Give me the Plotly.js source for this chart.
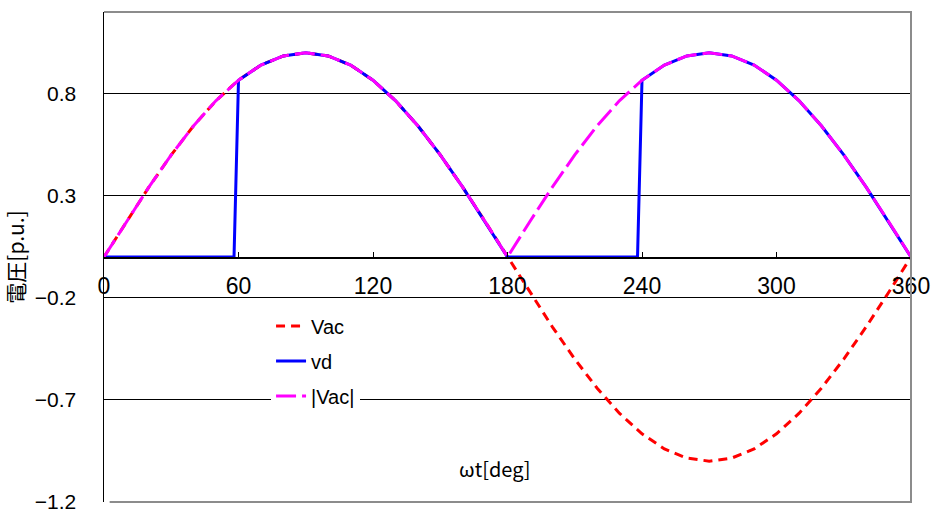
<!DOCTYPE html>
<html>
<head>
<meta charset="utf-8">
<script src="https://cdn.plot.ly/plotly-3.0.1.min.js"></script>
<style>html,body{margin:0;padding:0;background:#fff;}#chart{width:935px;height:518px;}</style>
</head>
<body>
<div id="chart"></div>
<script>
// angle samples [deg]
var deg = [0,10,20,30,40,50,60,70,80,90,100,110,120,130,140,150,160,170,180,
           190,200,210,220,230,240,250,260,270,280,290,300,310,320,330,340,350,360];
// Vac [p.u.]
var vac = [0,0.174,0.342,0.5,0.643,0.766,0.866,0.94,0.985,1.0,0.985,0.94,0.866,0.766,0.643,0.5,0.342,0.174,0,
           -0.174,-0.342,-0.5,-0.643,-0.766,-0.866,-0.94,-0.985,-1.0,-0.985,-0.94,-0.866,-0.766,-0.643,-0.5,-0.342,-0.174,0];
// |Vac| [p.u.]
var absVac = [0,0.174,0.342,0.5,0.643,0.766,0.866,0.94,0.985,1.0,0.985,0.94,0.866,0.766,0.643,0.5,0.342,0.174,0,
              0.174,0.342,0.5,0.643,0.766,0.866,0.94,0.985,1.0,0.985,0.94,0.866,0.766,0.643,0.5,0.342,0.174,0];
// vd samples
var degVd = [0,10,20,30,40,50,58,60,70,80,90,100,110,120,130,140,150,160,170,180,
             190,200,210,220,230,238,240,250,260,270,280,290,300,310,320,330,340,350,360];
var vd = [0,0,0,0,0,0,0,0.866,0.94,0.985,1.0,0.985,0.94,0.866,0.766,0.643,0.5,0.342,0.174,0,
          0,0,0,0,0,0,0.866,0.94,0.985,1.0,0.985,0.94,0.866,0.766,0.643,0.5,0.342,0.174,0];
var xTicks = [0,60,120,180,240,300,360];
var names = ['Vac','vd','|Vac|'];

var traces = [
  {x: deg, y: vac, name: names[0], mode: 'lines', legendgroup: 'a',
   line: {color: '#ff0000', width: 3, dash: '9px,6px'}},
  {x: degVd, y: vd, name: names[1], mode: 'lines', legendgroup: 'b',
   line: {color: '#0000ff', width: 3}},
  {x: deg, y: absVac, name: names[2], mode: 'lines', legendgroup: 'c',
   line: {color: '#ff00ff', width: 3, dash: '20px,6px'}}
];

var layout = {
  width: 935, height: 518,
  margin: {l: 104, r: 24, t: 12, b: 16},
  paper_bgcolor: '#fff', plot_bgcolor: '#fff',
  font: {family: 'Liberation Sans, Arial, sans-serif', color: '#000'},
  xaxis: {
    range: [0, 360], tickvals: xTicks, ticktext: xTicks.map(String),
    anchor: 'free', position: 0.5,
    showline: true, linecolor: '#000', linewidth: 1.5,
    ticks: 'inside', ticklen: 5, tickcolor: '#000', tickwidth: 1,
    ticklabelstandoff: 8,
    tickfont: {size: 23, family: 'Liberation Sans, Arial, sans-serif', color: '#000'},
    showgrid: false, zeroline: false, fixedrange: true
  },
  yaxis: {
    range: [-1.2, 1.2], tick0: -1.2, dtick: 0.5,
    showline: true, linecolor: '#000', linewidth: 1.5,
    ticks: 'inside', ticklen: 6, tickcolor: '#000',
    showgrid: true, gridcolor: '#000', gridwidth: 1,
    zeroline: false, ticklabelstandoff: 22,
    tickfont: {size: 21, family: 'Liberation Sans, Arial, sans-serif', color: '#000'},
    title: {text: '電圧[p.u.]', standoff: 4,
            font: {size: 21, family: 'Noto Sans CJK JP, sans-serif', color: '#000'}},
    fixedrange: true
  },
  showlegend: true,
  legend: {
    x: 0.207, y: 0.399, xanchor: 'left', yanchor: 'top',
    bgcolor: '#fff', borderwidth: 0,
    traceorder: 'grouped', tracegroupgap: 6,
    font: {size: 20, family: 'Liberation Sans, Arial, sans-serif', color: '#000'}
  },
  annotations: [{
    text: 'ωt[deg]', xref: 'paper', yref: 'paper', x: 0.484, y: 0.068,
    xanchor: 'center', yanchor: 'middle', showarrow: false,
    font: {size: 20, family: 'Noto Sans CJK JP, sans-serif', color: '#000'}
  }],
  shapes: [{
    type: 'path', xref: 'paper', yref: 'paper', layer: 'above',
    path: 'M0.007,0 L1,0 L1,1 L0,1',
    line: {color: '#8c8c8c', width: 2}
  }]
};

Plotly.newPlot('chart', traces, layout, {displayModeBar: false, staticPlot: true});
</script>
</body>
</html>
